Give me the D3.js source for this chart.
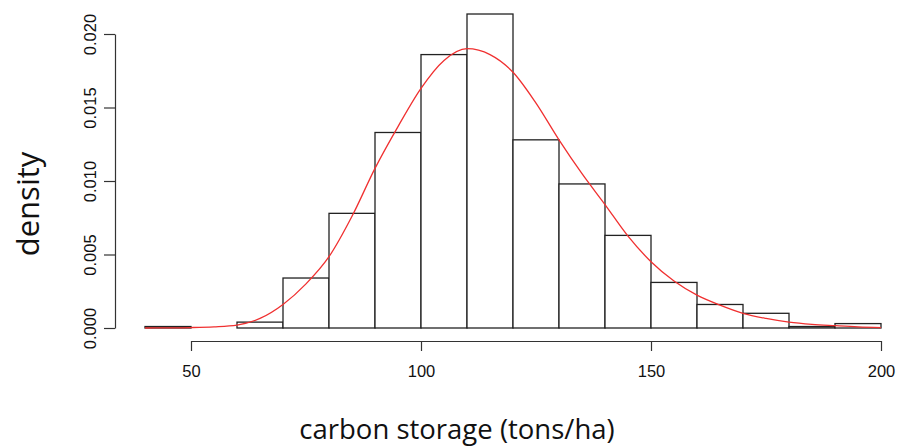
<!DOCTYPE html>
<html>
<head>
<meta charset="utf-8">
<script src="https://cdn.jsdelivr.net/npm/d3@7/dist/d3.min.js"></script>
<style>
  html, body { margin: 0; padding: 0; background: #fff; }
  svg { display: block; }
</style>
</head>
<body>
<svg id="chart" width="900" height="448"></svg>
<script>
// Histogram of carbon storage: bin edges (tons/ha) and density per bin
const binStarts = [40, 50, 60, 70, 80, 90, 100, 110, 120, 130, 140, 150, 160, 170, 180, 190];
const binWidth = 10;
const binDensity = [0.0001, 0.0, 0.0004, 0.0034, 0.0078, 0.0133, 0.0186, 0.02136,
                    0.0128, 0.0098, 0.0063, 0.0031, 0.0016, 0.0010, 0.0001, 0.0003];

// Fitted density curve, sampled every 5 tons/ha
const curveX = [40, 45, 50, 55, 60, 65, 70, 75, 80, 85, 90, 95, 100, 105, 110, 115, 120,
                125, 130, 135, 140, 145, 150, 155, 160, 165, 170, 175, 180, 185, 190, 195, 200];
const curveY = [0.00000, 0.00001, 0.00003, 0.00008, 0.00020, 0.00065, 0.00160, 0.00300,
                0.00485, 0.00760, 0.01086, 0.01370, 0.01630, 0.01820, 0.01900, 0.01860,
                0.01740, 0.01530, 0.01280, 0.01050, 0.00840, 0.00625, 0.00451, 0.00320,
                0.00224, 0.00156, 0.00100, 0.00065, 0.00040, 0.00025, 0.00016, 0.00008, 0.00003];

// Axis ticks
const xTicks = [50, 100, 150, 200];
const yTicks = [0.000, 0.005, 0.010, 0.015, 0.020];

const svg = d3.select("#chart");

const x = d3.scaleLinear().domain([50, 200]).range([191, 881]);
const y = d3.scaleLinear().domain([0, 0.020]).range([328, 34]);

// Bars
svg.append("g")
  .selectAll("rect")
  .data(binStarts)
  .join("rect")
  .attr("x", (d) => x(d))
  .attr("width", (d) => x(d + binWidth) - x(d))
  .attr("y", (d, i) => y(binDensity[i]))
  .attr("height", (d, i) => y(0) - y(binDensity[i]))
  .attr("fill", "#fff")
  .attr("stroke", "#222")
  .attr("stroke-width", 1.3);

// Density curve
const line = d3.line()
  .x((d, i) => x(curveX[i]))
  .y((d) => y(d))
  .curve(d3.curveMonotoneX);

svg.append("path")
  .datum(curveY)
  .attr("d", line)
  .attr("fill", "none")
  .attr("stroke", "#f03030")
  .attr("stroke-width", 1.3);

// X axis
const xAxis = svg.append("g")
  .attr("transform", "translate(0,341)")
  .call(d3.axisBottom(x).tickValues(xTicks).tickSize(10).tickSizeOuter(0).tickPadding(14)
        .tickFormat(d3.format("d")));
xAxis.select(".domain").attr("stroke", "#333").attr("stroke-width", 1.2);
xAxis.selectAll(".tick line").attr("stroke", "#333").attr("stroke-width", 1.2);
xAxis.selectAll(".tick text")
  .attr("font-family", "'Liberation Sans', Arial, sans-serif")
  .attr("font-size", 16.5)
  .attr("fill", "#111");

// Y axis with rotated labels
const yAxis = svg.append("g")
  .attr("transform", "translate(115,0)")
  .call(d3.axisLeft(y).tickValues(yTicks).tickSize(11).tickSizeOuter(0)
        .tickFormat(d3.format(".3f")));
yAxis.select(".domain").attr("stroke", "#333").attr("stroke-width", 1.2);
yAxis.selectAll(".tick line").attr("stroke", "#333").attr("stroke-width", 1.2);
yAxis.selectAll(".tick text")
  .attr("font-family", "'Liberation Sans', Arial, sans-serif")
  .attr("font-size", 16.5)
  .attr("fill", "#111")
  .attr("text-anchor", "middle")
  .attr("x", null)
  .attr("dy", null)
  .attr("transform", "translate(-19,0) rotate(-90)");

// Axis titles
svg.append("text")
  .attr("x", 457)
  .attr("y", 439)
  .attr("text-anchor", "middle")
  .attr("font-family", "'Open Sans', 'Noto Sans', sans-serif")
  .attr("font-size", 27.5)
  .attr("fill", "#111")
  .text("carbon storage (tons/ha)");

svg.append("text")
  .attr("transform", "translate(39,204) rotate(-90)")
  .attr("text-anchor", "middle")
  .attr("font-family", "'Open Sans', 'Noto Sans', sans-serif")
  .attr("font-size", 31)
  .attr("fill", "#111")
  .text("density");
</script>
</body>
</html>
